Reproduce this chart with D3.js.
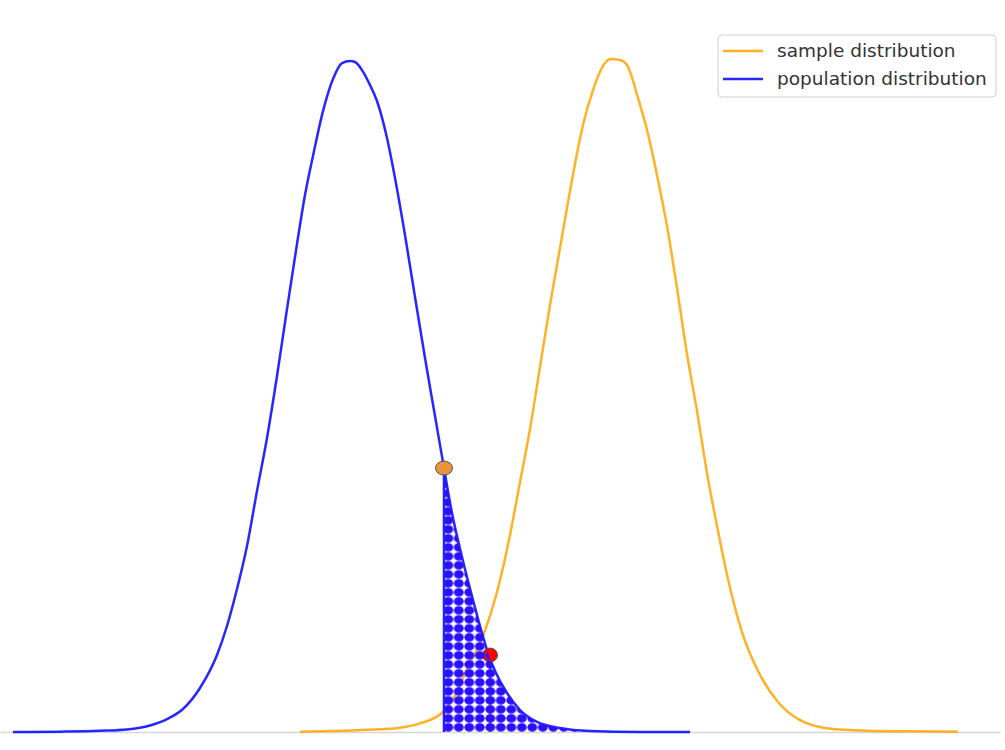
<!DOCTYPE html>
<html>
<head>
<meta charset="utf-8">
<script src="https://cdn.jsdelivr.net/npm/d3@7"></script>
<style>
	body { margin: 0; background: #fff; }
	svg { display: block; font-family: "DejaVu Sans", sans-serif; }
</style>
</head>
<body>
<div id="chart"></div>
<script>

// population curve
var popX = [-6.70, -5.76, -4.96, -4.42, -3.96, -3.62, -3.30, -2.96, -2.62, -2.42, -2.22, -2.02, -1.82, -1.62, -1.42, -1.22, -1.02, -0.86, -0.70, -0.50, -0.30, -0.12, 0.04, 0.14, 0.28, 0.44, 0.58, 0.78, 0.94, 1.14, 1.34, 1.54, 1.74, 1.92, 2.08, 2.28, 2.50, 2.68, 2.80, 2.96, 3.18, 3.44, 3.78, 4.24, 4.84, 5.84, 6.84]
var popY = [0, 0.0002, 0.0007, 0.0015, 0.0039, 0.0077, 0.0137, 0.0262, 0.0458, 0.0631, 0.0851, 0.1107, 0.1435, 0.1750, 0.2119, 0.2518, 0.2905, 0.3196, 0.3429, 0.3696, 0.3887, 0.3982, 0.3994, 0.3988, 0.3940, 0.3851, 0.3756, 0.3536, 0.3298, 0.2958, 0.2589, 0.2226, 0.1881, 0.1571, 0.1304, 0.1042, 0.0786, 0.0589, 0.0470, 0.0351, 0.0232, 0.0131, 0.0060, 0.0024, 0.0006, 0, 0]

// sample curve
var sampX = [-0.96, -0.06, 0.64, 1.04, 1.44, 1.90, 2.10, 2.38, 2.70, 2.98, 3.24, 3.44, 3.64, 3.84, 4.04, 4.24, 4.44, 4.70, 4.90, 5.14, 5.26, 5.44, 5.58, 5.80, 6.00, 6.18, 6.38, 6.58, 6.78, 6.98, 7.18, 7.38, 7.60, 7.88, 8.20, 8.60, 9.04, 9.70, 10.38, 11.24, 12.20]
var sampY = [0.0002, 0.0008, 0.0016, 0.0025, 0.0051, 0.0119, 0.0196, 0.0375, 0.0571, 0.0833, 0.1173, 0.1488, 0.1804, 0.2173, 0.2542, 0.2881, 0.3220, 0.3613, 0.3821, 0.3982, 0.4006, 0.4000, 0.3970, 0.3774, 0.3560, 0.3315, 0.3012, 0.2643, 0.2250, 0.1911, 0.1542, 0.1226, 0.0911, 0.0595, 0.0363, 0.0179, 0.0071, 0.0018, 0.0008, 0.0004, 0.0002]

// critical value (orange dot) and observed value (red dot)
var critX = 1.92
var critY = 0.1571
var obsX = 2.84
var obsY = 0.0458

var legendLabels = ['sample distribution', 'population distribution']
var legendColors = ['orange', 'blue']

var width = 1005,
	height = 750

var svg = d3.select('#chart')
	.append('svg')
	.attr('width', width)
	.attr('height', height)

var x = d3.scaleLinear()
	.domain([-6.96, 13.04])
	.range([0, 1000])

var y = d3.scaleLinear()
	.domain([0, 0.4])
	.range([732, 60])

var pop = popX.map((d, i) => ({x: d, y: popY[i]}))
var samp = sampX.map((d, i) => ({x: d, y: sampY[i]}))
var tail = pop.filter(d => d.x >= critX)

var line = d3.line()
	.x(d => x(d.x))
	.y(d => y(d.y))
	.curve(d3.curveMonotoneX)

var area = d3.area()
	.x(d => x(d.x))
	.y0(y(0))
	.y1(d => y(d.y))
	.curve(d3.curveMonotoneX)

// hatch of big dots
var pattern = svg.append('defs')
	.append('pattern')
	.attr('id', 'dots')
	.attr('patternUnits', 'userSpaceOnUse')
	.attr('x', 443.05)
	.attr('y', 722.8)
	.attr('width', 10.5)
	.attr('height', 9)

pattern.append('ellipse')
	.attr('cx', 5.25)
	.attr('cy', 4.5)
	.attr('rx', 4.95)
	.attr('ry', 4.25)
	.attr('fill', '#2b10ff')

// bottom spine only
svg.append('g')
	.attr('transform', 'translate(0,' + y(0) + ')')
	.call(d3.axisBottom(x).tickValues([]).tickSizeOuter(0))
	.call(g => g.select('.domain')
		.attr('stroke', '#d6d6d6')
		.attr('stroke-width', 1.5))

svg.append('path')
	.datum(samp)
	.attr('fill', 'none')
	.attr('stroke', 'orange')
	.attr('stroke-opacity', 0.85)
	.attr('stroke-width', 2.5)
	.attr('d', line)

svg.append('line')
	.attr('x1', x(obsX))
	.attr('x2', x(obsX))
	.attr('y1', y(0))
	.attr('y2', y(obsY))
	.attr('stroke', 'red')
	.attr('stroke-width', 1.5)

svg.append('path')
	.datum(pop)
	.attr('fill', 'none')
	.attr('stroke', 'blue')
	.attr('stroke-opacity', 0.85)
	.attr('stroke-width', 2.5)
	.attr('d', line)

svg.append('ellipse')
	.attr('cx', x(obsX))
	.attr('cy', y(obsY))
	.attr('rx', 7.5)
	.attr('ry', 7)
	.attr('fill', 'red')
	.attr('stroke', '#555')
	.attr('stroke-width', 1)

svg.append('path')
	.datum(tail)
	.attr('fill', 'url(#dots)')
	.attr('d', area)

// left edge of the shaded tail
svg.append('line')
	.attr('x1', x(critX))
	.attr('x2', x(critX))
	.attr('y1', y(0))
	.attr('y2', y(critY))
	.attr('stroke', '#2020ff')
	.attr('stroke-width', 2.5)

svg.append('ellipse')
	.attr('cx', x(critX))
	.attr('cy', y(critY))
	.attr('rx', 8.5)
	.attr('ry', 7)
	.attr('fill', '#e8943a')
	.attr('stroke', '#555')
	.attr('stroke-width', 1)

// legend
var legend = svg.append('g')
	.attr('transform', 'translate(718,35)')

legend.append('rect')
	.attr('width', 278)
	.attr('height', 62)
	.attr('rx', 4)
	.attr('fill', 'white')
	.attr('fill-opacity', 0.8)
	.attr('stroke', '#d0d0d0')

var items = legend.selectAll('g.item')
	.data(legendLabels)
	.join('g')
		.attr('class', 'item')
		.attr('transform', (d, i) => 'translate(0,' + (16 + i * 28) + ')')

items.append('line')
	.attr('x1', 5)
	.attr('x2', 45)
	.attr('stroke', (d, i) => legendColors[i])
	.attr('stroke-opacity', 0.85)
	.attr('stroke-width', 2.5)

items.append('text')
	.attr('x', 59)
	.attr('dy', '0.35em')
	.attr('fill', '#333')
	.attr('font-size', 18.5)
	.text(d => d)

</script>
</body>
</html>
